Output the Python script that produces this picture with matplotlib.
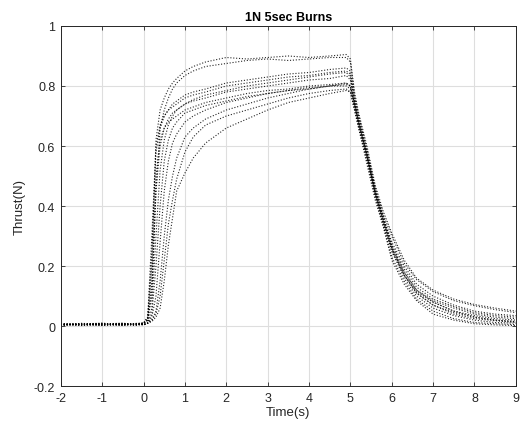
import matplotlib
matplotlib.use("Agg")
import matplotlib.pyplot as plt

plt.rcParams['font.family'] = ['Liberation Sans', 'DejaVu Sans']
plt.rcParams['axes.unicode_minus'] = False

# sample times (s) shared by all burns
time_s = [-2.0, -1.5, -1.0, -0.5, -0.2,
          0.0, 0.1, 0.2, 0.3, 0.4, 0.5, 0.6, 0.7, 0.8, 1.0, 1.2, 1.5,
          2.0, 2.5, 3.0, 3.5, 4.0, 4.5, 4.9,
          5.0, 5.1, 5.2, 5.4, 5.6, 5.8, 6.0, 6.3, 6.6, 7.0, 7.5, 8.0, 8.5, 9.0]

# thrust (N)
burn_01 = [0.005, 0.008, 0.004, 0.009, 0.006,
           0.01, 0.03, 0.20, 0.62, 0.72, 0.76, 0.79, 0.81, 0.825, 0.85, 0.865, 0.88,
           0.895, 0.89, 0.895, 0.90, 0.895, 0.90, 0.905,
           0.89, 0.78, 0.71, 0.60, 0.47, 0.38, 0.31, 0.22, 0.16, 0.12, 0.09, 0.072, 0.06, 0.05]
burn_02 = [0.008, 0.004, 0.009, 0.005, 0.008,
           0.01, 0.02, 0.10, 0.45, 0.66, 0.72, 0.76, 0.79, 0.81, 0.835, 0.85, 0.865,
           0.875, 0.885, 0.89, 0.885, 0.89, 0.895, 0.895,
           0.88, 0.77, 0.70, 0.59, 0.46, 0.37, 0.30, 0.21, 0.155, 0.115, 0.085, 0.068, 0.055, 0.045]
burn_03 = [0.003, 0.007, 0.010, 0.004, 0.009,
           0.01, 0.02, 0.25, 0.58, 0.66, 0.70, 0.72, 0.74, 0.75, 0.77, 0.78, 0.79,
           0.81, 0.82, 0.83, 0.84, 0.845, 0.855, 0.86,
           0.85, 0.76, 0.70, 0.58, 0.46, 0.36, 0.28, 0.20, 0.14, 0.10, 0.07, 0.05, 0.04, 0.035]
burn_04 = [0.006, 0.002, 0.007, 0.010, 0.004,
           0.01, 0.03, 0.30, 0.60, 0.67, 0.70, 0.72, 0.73, 0.74, 0.76, 0.77, 0.78,
           0.80, 0.81, 0.82, 0.83, 0.835, 0.845, 0.85,
           0.84, 0.75, 0.69, 0.58, 0.45, 0.36, 0.27, 0.19, 0.13, 0.09, 0.065, 0.045, 0.035, 0.03]
burn_05 = [0.009, 0.005, 0.003, 0.008, 0.007,
           0.01, 0.02, 0.12, 0.45, 0.60, 0.66, 0.69, 0.71, 0.72, 0.74, 0.755, 0.77,
           0.785, 0.80, 0.81, 0.82, 0.83, 0.84, 0.845,
           0.83, 0.75, 0.68, 0.57, 0.45, 0.35, 0.26, 0.18, 0.12, 0.085, 0.06, 0.04, 0.03, 0.025]
burn_06 = [0.004, 0.009, 0.006, 0.002, 0.008,
           0.005, 0.01, 0.06, 0.30, 0.52, 0.62, 0.67, 0.70, 0.72, 0.74, 0.75, 0.76,
           0.78, 0.79, 0.80, 0.81, 0.82, 0.825, 0.835,
           0.82, 0.74, 0.68, 0.57, 0.44, 0.34, 0.25, 0.17, 0.115, 0.08, 0.05, 0.035, 0.025, 0.02]
burn_07 = [0.007, 0.003, 0.008, 0.006, 0.002,
           0.01, 0.02, 0.15, 0.50, 0.62, 0.66, 0.68, 0.69, 0.70, 0.72, 0.73, 0.745,
           0.76, 0.775, 0.785, 0.79, 0.80, 0.805, 0.81,
           0.80, 0.74, 0.67, 0.56, 0.44, 0.35, 0.26, 0.17, 0.11, 0.07, 0.045, 0.03, 0.02, 0.015]
burn_08 = [0.002, 0.006, 0.004, 0.009, 0.005,
           0.005, 0.01, 0.04, 0.20, 0.40, 0.55, 0.62, 0.66, 0.68, 0.71, 0.72, 0.735,
           0.75, 0.765, 0.775, 0.785, 0.79, 0.80, 0.80,
           0.79, 0.73, 0.67, 0.56, 0.44, 0.34, 0.25, 0.16, 0.10, 0.06, 0.035, 0.02, 0.012, 0.01]
burn_09 = [0.008, 0.006, 0.002, 0.005, 0.009,
           0.005, 0.01, 0.03, 0.10, 0.28, 0.45, 0.55, 0.61, 0.64, 0.68, 0.70, 0.72,
           0.745, 0.76, 0.775, 0.785, 0.795, 0.80, 0.805,
           0.80, 0.74, 0.68, 0.57, 0.45, 0.36, 0.27, 0.18, 0.12, 0.08, 0.05, 0.03, 0.02, 0.015]
burn_10 = [0.003, 0.009, 0.007, 0.004, 0.006,
           0.005, 0.01, 0.02, 0.05, 0.15, 0.30, 0.42, 0.50, 0.56, 0.63, 0.66, 0.69,
           0.72, 0.74, 0.76, 0.775, 0.79, 0.80, 0.81,
           0.80, 0.74, 0.68, 0.57, 0.44, 0.35, 0.26, 0.17, 0.11, 0.07, 0.04, 0.025, 0.018, 0.012]
burn_11 = [0.006, 0.004, 0.009, 0.003, 0.007,
           0.005, 0.01, 0.02, 0.04, 0.10, 0.22, 0.34, 0.42, 0.49, 0.58, 0.63, 0.67,
           0.70, 0.72, 0.74, 0.76, 0.775, 0.785, 0.79,
           0.78, 0.72, 0.66, 0.55, 0.43, 0.33, 0.23, 0.15, 0.09, 0.05, 0.025, 0.012, 0.008, 0.005]
burn_12 = [0.004, 0.007, 0.005, 0.008, 0.003,
           0.005, 0.01, 0.015, 0.03, 0.06, 0.15, 0.27, 0.36, 0.45, 0.51, 0.56, 0.61,
           0.66, 0.69, 0.72, 0.745, 0.76, 0.775, 0.785,
           0.78, 0.72, 0.66, 0.54, 0.42, 0.33, 0.22, 0.14, 0.085, 0.04, 0.02, 0.008, 0.004, 0.002]

burns = [burn_01, burn_02, burn_03, burn_04, burn_05, burn_06,
         burn_07, burn_08, burn_09, burn_10, burn_11, burn_12]

x_ticks = [-2, -1, 0, 1, 2, 3, 4, 5, 6, 7, 8, 9]
y_ticks = [-0.2, 0, 0.2, 0.4, 0.6, 0.8, 1]
y_tick_labels = ["-0.2", "0", "0.2", "0.4", "0.6", "0.8", "1"]


def main():
    fig = plt.figure(figsize=(5.2, 4.35), dpi=100)
    ax = fig.add_axes([0.117, 0.110, 0.875, 0.828])

    for b in burns:
        ax.plot(time_s, b, color="black", linewidth=0.8,
                linestyle=(0, (1, 1.6)), alpha=0.85)

    ax.set_xlim(-2, 9)
    ax.set_ylim(-0.2, 1)
    ax.set_xticks(x_ticks)
    ax.set_yticks(y_ticks)
    ax.set_yticklabels(y_tick_labels)

    ax.grid(True, color="#dedede", linewidth=0.8)
    ax.set_axisbelow(True)
    ax.tick_params(direction="in", top=True, right=True, length=3,
                   width=0.6, labelsize=9, colors="#262626", pad=4)
    for s in ax.spines.values():
        s.set_color("#262626")
        s.set_linewidth(0.7)

    ax.set_xlabel("Time(s)", fontsize=9.5, color="#262626", labelpad=2)
    ax.set_ylabel("Thrust(N)", fontsize=9.5, color="#262626", labelpad=6)
    ax.set_title("1N 5sec Burns", fontsize=9, fontweight="bold", pad=4)

    fig.savefig("out.png", dpi=100)


if __name__ == "__main__":
    main()
